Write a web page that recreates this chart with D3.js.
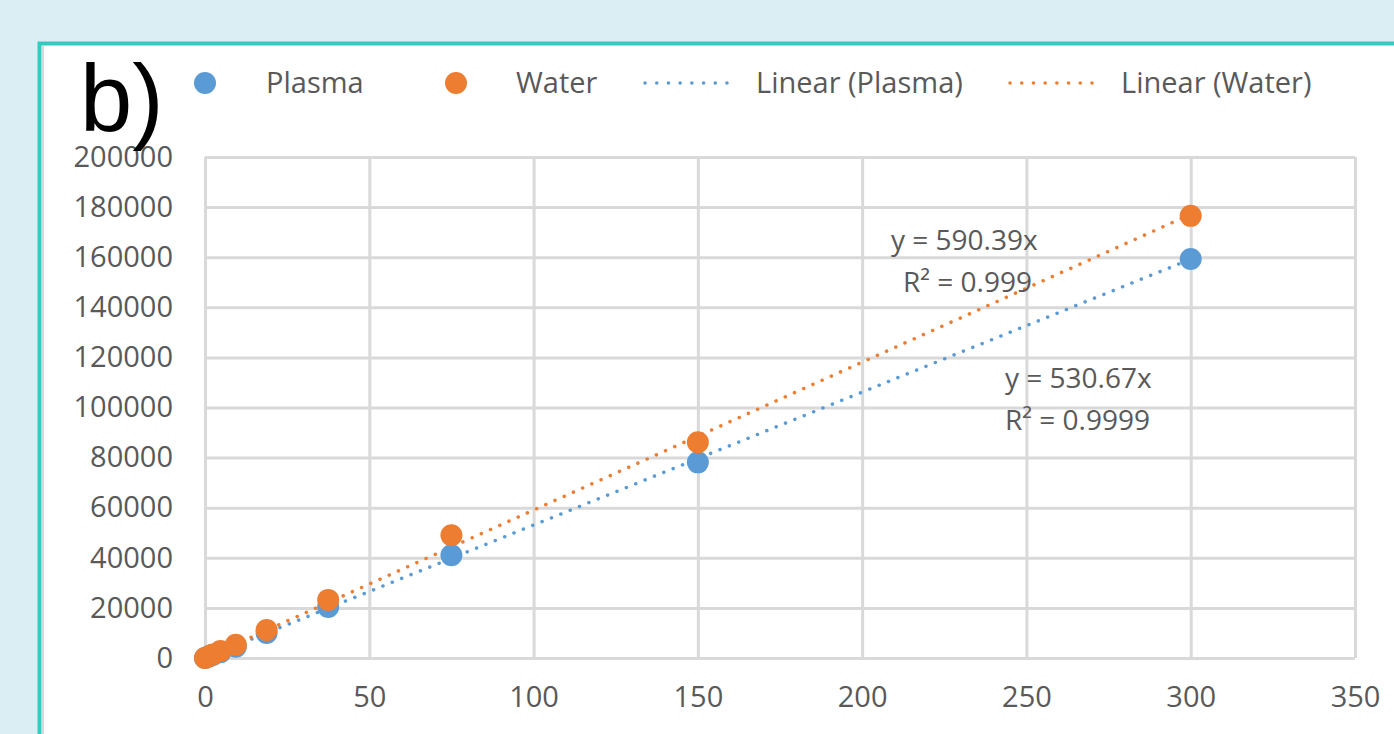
<!DOCTYPE html>
<html>
<head>
<meta charset="utf-8">
<script src="https://cdn.jsdelivr.net/npm/d3@7"></script>
<style>
  body { margin: 0; background: #dbeef4; }
  svg { display: block; }
</style>
</head>
<body>
<div id="chart"></div>
<script>
// Chart data
var concentrations = [0, 1.17, 2.34, 4.69, 9.375, 18.75, 37.5, 75, 150, 300];
var plasmaValues = [0, 600, 1200, 2300, 4500, 10000, 20400, 41000, 78100, 159300];
var waterValues = [0, 700, 1400, 2800, 5300, 11200, 23200, 49000, 86100, 176500];
var plasmaSlope = 530.67;
var waterSlope = 590.39;
var xTicks = [0, 50, 100, 150, 200, 250, 300, 350];
var yTicks = [0, 20000, 40000, 60000, 80000, 100000, 120000, 140000, 160000, 180000, 200000];
var legendLabels = ["Plasma", "Water", "Linear (Plasma)", "Linear (Water)"];

var svgWidth = 1394;
var svgHeight = 734;
var blue = "#5b9bd5";
var orange = "#ed7d31";
var textColor = "#595959";
var font = "'Open Sans', 'Noto Sans', sans-serif";

var margin = { top: 157, left: 205, right: 39, bottom: 76 };
var chartWidth = svgWidth - margin.left - margin.right;
var chartHeight = svgHeight - margin.top - margin.bottom;

var svg = d3.select("#chart")
  .append("svg")
  .attr("width", svgWidth)
  .attr("height", svgHeight);

// white panel with teal border
svg.append("rect")
  .attr("x", 39.5).attr("y", 43.5)
  .attr("width", svgWidth + 20).attr("height", svgHeight + 20)
  .attr("fill", "white")
  .attr("stroke", "#36c9bf")
  .attr("stroke-width", 4);
svg.append("line")
  .attr("x1", 43).attr("x2", 43).attr("y1", 46).attr("y2", svgHeight)
  .attr("stroke", "#d9d9d9").attr("stroke-width", 2);

var chartGroup = svg.append("g")
  .attr("transform", `translate(${margin.left}, ${margin.top})`);

var xScale = d3.scaleLinear().domain([0, 350]).range([0, chartWidth]);
var yScale = d3.scaleLinear().domain([0, 200000]).range([chartHeight, 0]);

// gridlines
chartGroup.append("g")
  .call(d3.axisLeft(yScale).tickValues(yTicks).tickSize(-chartWidth).tickFormat(""))
  .call(g => g.select(".domain").remove())
  .selectAll("line").attr("stroke", "#d9d9d9").attr("stroke-width", 3);

chartGroup.append("g")
  .attr("transform", `translate(0, ${chartHeight})`)
  .call(d3.axisBottom(xScale).tickValues(xTicks).tickSize(-chartHeight).tickFormat(""))
  .call(g => g.select(".domain").remove())
  .selectAll("line").attr("stroke", "#d9d9d9").attr("stroke-width", 3);

// tick labels
var yAxis = chartGroup.append("g")
  .call(d3.axisLeft(yScale).tickValues(yTicks).tickSize(0).tickPadding(32).tickFormat(d3.format("d")));
yAxis.select(".domain").remove();
yAxis.selectAll("text")
  .attr("font-family", font).attr("font-size", "29px").attr("fill", textColor);

var xAxis = chartGroup.append("g")
  .attr("transform", `translate(0, ${chartHeight})`)
  .call(d3.axisBottom(xScale).tickValues(xTicks).tickSize(0).tickPadding(28));
xAxis.select(".domain").remove();
xAxis.selectAll("text")
  .attr("font-family", font).attr("font-size", "29px").attr("fill", textColor);

// trend lines through the origin
var trendLine = d3.line()
  .x(d => xScale(d[0]))
  .y(d => yScale(d[1]));

var trends = [
  { slope: plasmaSlope, color: blue },
  { slope: waterSlope, color: orange }
];
trends.forEach(function(t) {
  chartGroup.append("path")
    .datum([[0, 0], [300, 300 * t.slope]])
    .attr("d", trendLine)
    .attr("fill", "none")
    .attr("stroke", t.color)
    .attr("stroke-width", 3.5)
    .attr("stroke-linecap", "round")
    .attr("stroke-dasharray", "0.1 10");
});

// points
var series = [
  { values: plasmaValues, color: blue },
  { values: waterValues, color: orange }
];
series.forEach(function(s) {
  chartGroup.append("g")
    .selectAll("circle")
    .data(concentrations)
    .enter()
    .append("circle")
    .attr("cx", d => xScale(d))
    .attr("cy", (d, i) => yScale(s.values[i]))
    .attr("r", 11)
    .attr("fill", s.color);
});

// equation labels
var equations = [
  { lines: ["y = 590.39x", "R² = 0.999"], x: 686, y: 250, dx: [0, 12] },
  { lines: ["y = 530.67x", "R² = 0.9999"], x: 800, y: 388, dx: [0, 0] }
];
equations.forEach(function(e) {
  e.lines.forEach(function(line, i) {
    svg.append("text")
      .attr("x", margin.left + e.x + e.dx[i])
      .attr("y", e.y + i * 42)
      .attr("font-family", font).attr("font-size", "28px").attr("fill", textColor)
      .text(line);
  });
});

// legend
var legend = svg.append("g");
var markerX = [205, 456];
[blue, orange].forEach(function(c, i) {
  legend.append("circle").attr("cx", markerX[i]).attr("cy", 83).attr("r", 11).attr("fill", c);
});
var lineX = [645, 1010];
[blue, orange].forEach(function(c, i) {
  legend.append("line")
    .attr("x1", lineX[i]).attr("x2", lineX[i] + 93)
    .attr("y1", 83).attr("y2", 83)
    .attr("stroke", c).attr("stroke-width", 3.5)
    .attr("stroke-linecap", "round").attr("stroke-dasharray", "0.1 11.6");
});
var labelX = [266, 516, 756, 1121];
legendLabels.forEach(function(l, i) {
  legend.append("text")
    .attr("x", labelX[i]).attr("y", 93)
    .attr("font-family", font).attr("font-size", "29px").attr("fill", textColor)
    .text(l);
});

// panel letter
svg.append("text")
  .attr("x", 80).attr("y", 131)
  .attr("font-family", "'Liberation Sans', Arial, sans-serif")
  .attr("font-size", "94px").attr("fill", "black")
  .text("b)");
</script>
</body>
</html>
